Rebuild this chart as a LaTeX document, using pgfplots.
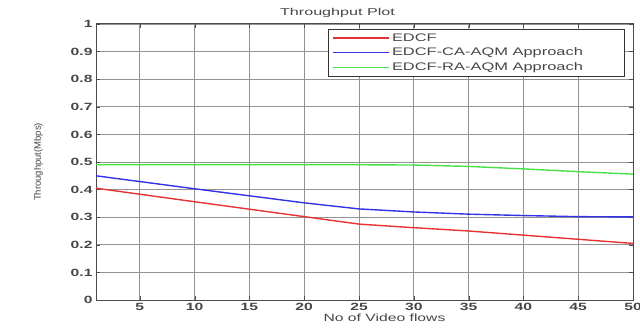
\documentclass[border=0pt]{standalone}
\usepackage{pgfplots}
\pgfplotsset{compat=1.18}
\usepackage{fontspec}
\setmainfont{Liberation Sans}
\newfontfamily\wideA[FakeStretch=1.5]{Liberation Sans}
\newfontfamily\wideT[FakeStretch=1.62]{Liberation Sans}
\definecolor{lred}{RGB}{230,50,50}
\definecolor{lblue}{RGB}{50,50,230}
\definecolor{lgreen}{RGB}{70,225,70}
\definecolor{txt}{RGB}{70,70,70}
\newcommand\lw[1]{\makebox[226bp][l]{#1}}
\begin{document}
\begin{tikzpicture}
\begin{axis}[
  at={(96bp,33bp)}, anchor=south west,
  scale only axis, width=537bp, height=276bp,
  xmin=1, xmax=50, ymin=0, ymax=1,
  xtick={5,10,...,50},
  ytick={0,0.1,...,1},
  yticklabels={0,0.1,0.2,0.3,0.4,0.5,0.6,0.7,0.8,0.9,1},
  grid=major,
  major grid style={gray!85, line width=0.9pt},
  axis line style={gray!60!black, line width=1pt},
  tick style={gray!60!black},
  tick align=inside,
  ticklabel style={font=\fontsize{10.5}{12}\wideA\bfseries, text=txt},
  /pgf/number format/assume math mode=true,
  title={Throughput Plot},
  title style={font=\fontsize{10}{11}\wideT, text=txt, yshift=-3bp, xshift=-27bp},
  xlabel={No of Video flows},
  ylabel={Throughput(Mbps)},
  xlabel style={font=\fontsize{10.5}{12}\wideA, text=txt, yshift=4bp, xshift=20bp},
  ylabel style={font=\fontsize{9.5}{11}\selectfont, text=txt, yshift=21bp},
  legend style={at={(0.984,0.982)}, anchor=north east, draw=gray!40!black, line width=0.8pt,
    font=\fontsize{11}{12}\wideA, text=txt, row sep=1.5bp, inner xsep=4bp, inner ysep=2bp},
  legend cell align=left,
  legend image code/.code={\path (0bp,0bp) -- (56bp,0bp); \draw[#1, line width=1.5pt] (10bp,0bp) -- (56bp,0bp);},
]
\addplot[lred, line width=1.4pt] coordinates {(1,0.405) (10,0.356) (20,0.302) (25,0.275) (30,0.262) (35,0.25) (40,0.235) (45,0.22) (50,0.205)};
\addlegendentry{\lw{EDCF}}
\addplot[lblue, line width=1.4pt] coordinates {(1,0.45) (10,0.403) (20,0.352) (25,0.33) (30,0.319) (35,0.311) (40,0.306) (45,0.302) (50,0.301)};
\addlegendentry{\lw{EDCF-CA-AQM Approach}}
\addplot[lgreen, line width=1.4pt] coordinates {(1,0.49) (10,0.49) (20,0.49) (25,0.49) (30,0.489) (35,0.484) (40,0.475) (45,0.465) (50,0.456)};
\addlegendentry{\lw{EDCF-RA-AQM Approach}}
\end{axis}
\pgfresetboundingbox
\path[use as bounding box] (0,0) rectangle (640bp,333bp);
\end{tikzpicture}
\end{document}
